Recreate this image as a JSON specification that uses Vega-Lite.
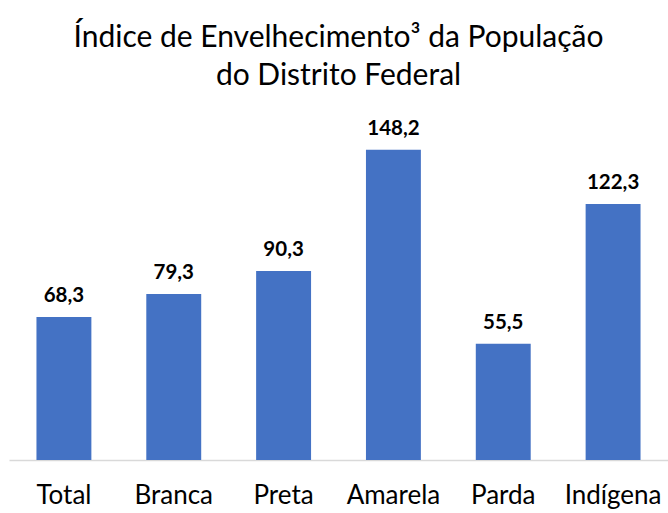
{
  "$schema": "https://vega.github.io/schema/vega-lite/v6.json",
  "autosize": "none",
  "padding": {"left": 9, "top": 125, "right": 0, "bottom": 53},
  "width": 659,
  "height": 335,
  "background": "white",
  "config": {
    "view": {"stroke": null},
    "locale": {"number": {"decimal": ",", "thousands": ".", "grouping": [3], "currency": ["R$", ""]}},
    "font": "Lato"
  },
  "title": {
    "text": ["Índice de Envelhecimento³ da População", "do Distrito Federal"],
    "font": "Lato",
    "fontSize": 30,
    "fontWeight": "normal",
    "color": "#000000",
    "lineHeight": 38,
    "anchor": "middle",
    "offset": 28
  },
  "data": {
    "values": [
      {"grupo": "Total", "indice": 68.3},
      {"grupo": "Branca", "indice": 79.3},
      {"grupo": "Preta", "indice": 90.3},
      {"grupo": "Amarela", "indice": 148.2},
      {"grupo": "Parda", "indice": 55.5},
      {"grupo": "Indígena", "indice": 122.3}
    ]
  },
  "encoding": {
    "x": {
      "field": "grupo",
      "type": "nominal",
      "sort": null,
      "scale": {"paddingInner": 0.5, "paddingOuter": 0.25},
      "axis": {
        "title": null,
        "labelAngle": 0,
        "labelFont": "Lato",
        "labelFontSize": 26,
        "labelColor": "#000000",
        "labelPadding": 22,
        "ticks": false,
        "domainColor": "#d9d9d9",
        "domainWidth": 1.5
      }
    },
    "y": {
      "field": "indice",
      "type": "quantitative",
      "scale": {"domain": [0, 160], "nice": false},
      "axis": null
    }
  },
  "layer": [
    {"mark": {"type": "bar", "color": "#4472C4"}},
    {
      "mark": {"type": "text", "baseline": "bottom", "dy": -11, "font": "Lato", "fontSize": 20.5, "fontWeight": "bold", "color": "#000000"},
      "encoding": {"text": {"field": "indice", "type": "quantitative", "format": ".1f"}}
    }
  ]
}
